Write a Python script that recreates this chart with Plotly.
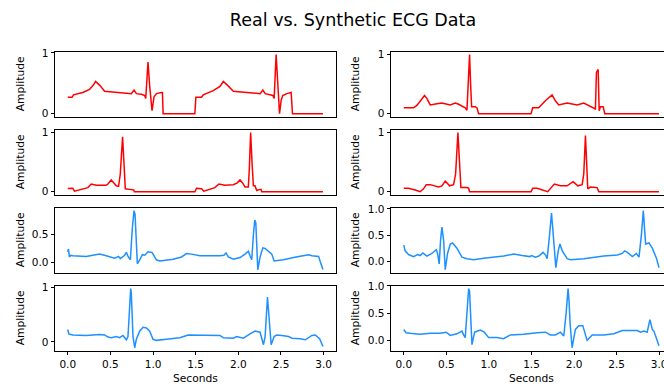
import plotly.graph_objects as go

# ---------------- data (seconds, amplitude) ----------------
real1_t = [0, 0.051, 0.067, 0.12, 0.177, 0.255, 0.30, 0.326, 0.373, 0.432, 0.53, 0.647, 0.745, 0.777, 0.805, 0.863, 0.902,
           0.914, 0.941, 0.961, 0.973, 0.988, 1.012, 1.04, 1.099, 1.11, 1.118, 1.49, 1.502, 1.569, 1.589, 1.65, 1.706,
           1.785, 1.824, 1.871, 1.942, 2.099, 2.256, 2.287, 2.315, 2.405, 2.42, 2.443, 2.463, 2.483, 2.502, 2.521,
           2.568, 2.619, 2.635, 2.992]
real1_y = [.27, .27, .31, .33, .35, .40, .47, .53, .47, .37, .36, .34, .33, .39, .33, .32, .30,
           .25, .85, .45, .20, .05, .28, .33, .35, .35, 0, 0, .27, .27, .31, .34, .38,
           .45, .53, .47, .37, .35, .33, .39, .33, .30, .25, .97, .40, 0.0, .22, .30,
           .33, .35, 0, 0]

real2_t = [0, 0.115, 0.154, 0.244, 0.271, 0.311, 0.389, 0.448, 0.546, 0.605, 0.644, 0.683, 0.722, 0.742, 0.757,
           0.773, 0.785, 0.797, 0.84, 0.86, 0.879, 1.495, 1.514, 1.585, 1.663, 1.742, 1.781, 1.82, 1.918, 2.036,
           2.114, 2.192, 2.232, 2.251, 2.263, 2.283, 2.295, 2.31, 2.342, 2.361, 2.997]
real2_y = [.10, .10, .14, .31, .26, .15, .17, .18, .15, .18, .16, .13, .10, .06, .60,
           1.0, .50, .12, .12, .10, 0, 0, .10, .10, .22, .32, .22, .15, .18, .15,
           .18, .12, .10, .08, .70, .75, .05, .12, .12, 0, 0]

real3_t = [0, 0.059, 0.079, 0.138, 0.208, 0.236, 0.275, 0.334, 0.451, 0.471, 0.51, 0.538, 0.569, 0.596, 0.616,
           0.643, 0.659, 0.675, 0.726, 0.757, 0.773, 0.781, 1.491, 1.51, 1.569, 1.596, 1.667, 1.726, 1.773, 1.843,
           1.941, 1.988, 2.02, 2.051, 2.079, 2.118, 2.13, 2.145, 2.161, 2.177, 2.196, 2.216, 2.255, 2.267, 2.275,
           2.993]
real3_y = [.056, .06, .01, .03, .05, .07, .13, .11, .11, .13, .20, .15, .10, .09, .30,
           .93, .50, .05, .04, .03, .03, 0, 0, .06, .05, .01, .04, .07, .13, .11,
           .12, .15, .20, .15, .08, .08, .40, 1.0, .50, .10, .10, .02, .04, .04, 0,
           0]

real4_t = [0, 0.056, 0.134, 0.193, 0.232, 0.264, 0.311, 0.409, 0.448, 0.487, 0.514, 0.538, 0.585, 0.609, 0.636,
           0.652, 0.671, 0.742, 0.762, 0.773, 1.495, 1.514, 1.565, 1.69, 1.769, 1.84, 1.918, 1.989, 2.044, 2.095,
           2.114, 2.134, 2.15, 2.161, 2.193, 2.271, 2.291, 2.997]
real4_y = [.06, .06, .03, 0, .05, .12, .12, .08, .10, .18, .14, .10, .12, .30, 1.0,
           .50, .07, .07, .06, 0, 0, .06, .06, 0, .13, .10, .10, .17, .10, .12,
           .30, .95, .40, .05, .08, .07, 0, 0]

syn1_t = [0, 0.008, 0.02, 0.036, 0.059, 0.216, 0.295, 0.353, 0.373, 0.451, 0.549, 0.596, 0.616, 0.667, 0.687,
          0.71, 0.734, 0.757, 0.777, 0.789, 0.804, 0.816, 0.843, 0.875, 0.902, 0.941, 0.988, 1.039, 1.079, 1.236,
          1.334, 1.392, 1.451, 1.549, 1.784, 1.831, 1.855, 1.883, 1.941, 2.02, 2.079, 2.118, 2.137, 2.157, 2.177,
          2.193, 2.205, 2.216, 2.228, 2.255, 2.287, 2.314, 2.353, 2.392, 2.42, 2.471, 2.53, 2.647, 2.765, 2.824,
          2.863, 2.941, 2.96, 2.992]
syn1_y = [.19, .24, .10, .13, .12, .11, .13, .14, .15, .12, .08, .11, .07, .13, .18,
          .10, .05, .60, .915, .85, .30, -.02, .05, .14, .13, .19, .18, .05, .03, .06,
          .10, .16, .15, .12, .12, .13, .17, .10, .06, .09, .15, .20, .12, .05, .50,
          .75, .70, .20, -.125, .10, .26, .25, .20, .15, .03, .04, .05, .09, .13, .14,
          .12, .11, .02, -.12]

syn2_t = [0, 0.016, 0.056, 0.115, 0.162, 0.193, 0.224, 0.271, 0.33, 0.381, 0.397, 0.416, 0.432, 0.448, 0.468,
          0.487, 0.514, 0.546, 0.573, 0.624, 0.683, 0.742, 0.82, 0.938, 1.173, 1.291, 1.389, 1.479, 1.499, 1.546,
          1.585, 1.636, 1.664, 1.683, 1.711, 1.734, 1.75, 1.77, 1.785, 1.813, 1.833, 1.86, 1.918, 1.958, 2.114,
          2.349, 2.506, 2.565, 2.593, 2.624, 2.683, 2.73, 2.761, 2.789, 2.812, 2.827, 2.839, 2.878, 2.917, 2.968,
          2.995]
syn2_y = [.31, .20, .13, .09, .13, .11, .16, .10, .15, .22, .15, -.05, .40, .65, .40,
          -.16, .15, .33, .35, .25, .08, .05, .03, .06, .10, .14, .11, .09, .11, .08,
          .10, .17, .12, .05, .50, .92, .60, .10, -.12, .20, .33, .20, .05, .03, .05,
          .10, .12, .15, .20, .17, .09, .15, .08, .50, .965, .60, .33, .35, .25, .05,
          -.12]

syn3_t = [0, 0.012, 0.059, 0.216, 0.373, 0.432, 0.471, 0.51, 0.569, 0.608, 0.647, 0.687, 0.706, 0.722, 0.738,
          0.745, 0.765, 0.785, 0.804, 0.843, 0.883, 0.922, 0.961, 1.0, 1.039, 1.157, 1.314, 1.412, 1.628, 1.784,
          1.824, 1.941, 1.98, 2.059, 2.137, 2.196, 2.255, 2.279, 2.295, 2.314, 2.326, 2.342, 2.353, 2.369, 2.385,
          2.42, 2.451, 2.51, 2.589, 2.628, 2.726, 2.785, 2.863, 2.902, 2.953, 2.992]
syn3_y = [.23, .15, .13, .12, .14, .13, .09, .08, .10, .08, .12, .04, .10, .60, .983,
          .90, .10, -.106, .05, .20, .27, .26, .20, .05, .03, .05, .08, .13, .13, .12,
          .08, .07, .10, .07, .15, .20, .18, .05, -.05, .10, .50, .83, .60, .15, -.05,
          .10, .13, .12, .10, .07, .06, .04, .12, .13, .06, -.08]

syn4_t = [0, 0.028, 0.075, 0.193, 0.311, 0.428, 0.499, 0.546, 0.624, 0.683, 0.703, 0.722, 0.742, 0.762, 0.773,
          0.789, 0.801, 0.832, 0.86, 0.899, 0.946, 0.997, 1.095, 1.173, 1.252, 1.409, 1.565, 1.664, 1.722, 1.781,
          1.84, 1.879, 1.907, 1.93, 1.942, 1.954, 1.977, 2.016, 2.056, 2.103, 2.134, 2.154, 2.213, 2.351, 2.468,
          2.565, 2.742, 2.781, 2.82, 2.859, 2.891, 2.907, 2.919, 2.938, 2.997]
syn4_y = [.20, .14, .13, .11, .13, .13, .15, .09, .12, .17, .10, .05, .50, .95, .90,
          .30, -.08, .15, .17, .19, .15, .05, .05, .03, .10, .11, .14, .15, .10, .10,
          .15, .08, .50, .95, .70, .30, -.136, .20, .27, .27, .10, 0.0, .10, .10, .12,
          .18, .18, .15, .17, .15, .38, .28, .20, .17, -.10]

# panel grid: (row, col) -> series
panels = [
    (1, 1, real1_t, real1_y, "red"), (1, 2, real2_t, real2_y, "red"),
    (2, 1, real3_t, real3_y, "red"), (2, 2, real4_t, real4_y, "red"),
    (3, 1, syn1_t, syn1_y, "#1e90ff"), (3, 2, syn2_t, syn2_y, "#1e90ff"),
    (4, 1, syn3_t, syn3_y, "#1e90ff"), (4, 2, syn4_t, syn4_y, "#1e90ff"),
]
ytick_vals = {
    (1, 1): [0, 1], (1, 2): [0, 1], (2, 1): [0, 1], (2, 2): [0, 1],
    (3, 1): [0, 0.5], (3, 2): [0, 0.5, 1.0], (4, 1): [0, 1], (4, 2): [0, 0.5, 1.0],
}
ytick_text = {
    (1, 1): ["0", "1"], (1, 2): ["0", "1"], (2, 1): ["0", "1"], (2, 2): ["0", "1"],
    (3, 1): ["0.0", "0.5"], (3, 2): ["0.0", "0.5", "1.0"], (4, 1): ["0", "1"], (4, 2): ["0.0", "0.5", "1.0"],
}
xtick_vals = [0, 0.5, 1.0, 1.5, 2.0, 2.5, 3.0]
xtick_text = ["0.0", "0.5", "1.0", "1.5", "2.0", "2.5", "3.0"]

title = "Real vs. Synthetic ECG Data"
xlabel = "Seconds"
ylabel = "Amplitude"

# ---------------- layout geometry (pixels) ----------------
W, H = 664, 385
col_px = {1: (55.0, 335.7), 2: (391.0, 671.7)}   # right column is cropped by the canvas
row_top = {1: 51.7, 2: 129.7, 3: 207.7, 4: 285.7}
row_h = 65.0
FONT = "DejaVu Sans"

fig = go.Figure()
annotations = []
for k, (r, c, t, y, color) in enumerate(panels, start=1):
    xa = "x" if k == 1 else f"x{k}"
    ya = "y" if k == 1 else f"y{k}"
    fig.add_trace(go.Scatter(x=t, y=y, mode="lines", line=dict(color=color, width=1.5),
                             xaxis=xa, yaxis=ya, showlegend=False, hoverinfo="skip"))
    x0p, x1p = col_px[c]
    vis1 = min(x1p, W)
    tmax = max(t)
    lo, hi = -0.05 * tmax, tmax * 1.05
    xr = [lo, lo + (hi - lo) * (vis1 - x0p) / (x1p - x0p)]
    ymin, ymax = min(y), max(y)
    span = ymax - ymin
    yr = [ymin - 0.05 * span, ymax + 0.05 * span]
    top = row_top[r]
    bot = top + row_h
    xdom = [x0p / W, vis1 / W]
    ydom = [1 - bot / H, 1 - top / H]
    last = (r == 4)
    fig.layout[("xaxis" if k == 1 else f"xaxis{k}")] = dict(
        domain=xdom, range=xr, anchor=ya, showgrid=False, zeroline=False,
        showline=True, mirror=True, linecolor="#000", linewidth=0.9,
        ticks="outside" if last else "", ticklen=3.5, tickwidth=0.9, tickcolor="#000",
        tickvals=xtick_vals, ticktext=xtick_text, showticklabels=last,
        ticklabeloverflow="allow",
        tickfont=dict(family=FONT, size=10.5, color="#000"), automargin=False,
    )
    fig.layout[("yaxis" if k == 1 else f"yaxis{k}")] = dict(
        domain=ydom, range=yr, anchor=xa, showgrid=False, zeroline=False,
        showline=True, mirror=(c == 1), linecolor="#000", linewidth=0.9,
        ticks="outside", ticklen=3.5, tickwidth=0.9, tickcolor="#000",
        tickvals=ytick_vals[(r, c)], ticktext=ytick_text[(r, c)],
        tickfont=dict(family=FONT, size=10.5, color="#000"), automargin=False,
    )
    annotations.append(dict(text=ylabel, xref="paper", yref="paper",
                            x=(20 if c == 1 else 355) / W, y=1 - (top + row_h / 2) / H,
                            xanchor="center", yanchor="middle", textangle=-90, showarrow=False,
                            font=dict(family=FONT, size=10.7, color="#000")))
    if last:
        annotations.append(dict(text=xlabel, xref="paper", yref="paper",
                                x=((x0p + x1p) / 2) / W, y=1 - 378.5 / H,
                                xanchor="center", yanchor="middle", showarrow=False,
                                font=dict(family=FONT, size=10.7, color="#000")))

fig.update_layout(
    width=W, height=H, margin=dict(l=0, r=0, t=0, b=0),
    paper_bgcolor="white", plot_bgcolor="white",
    title=dict(text=title, x=353 / W, xanchor="center", y=1 - 20 / H, yanchor="middle",
               font=dict(family=FONT, size=17.5, color="#000")),
    annotations=annotations,
)
fig.write_html("out.html")
